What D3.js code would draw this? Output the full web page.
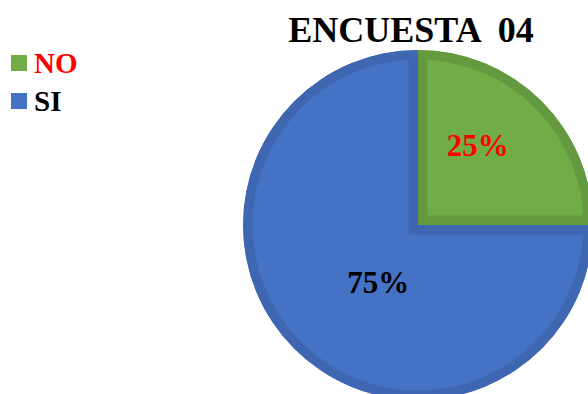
<!DOCTYPE html>
<html>
<head>
<meta charset="utf-8">
<script src="https://cdn.jsdelivr.net/npm/d3@7"></script>
<style>
  html, body { margin: 0; padding: 0; background: #fff; }
  svg { display: block; }
</style>
</head>
<body>
<svg id="chart" width="588" height="394"></svg>
<script>
// Survey answers
const categories = ["NO", "SI"];
const values = [25, 75];
const valueLabels = ["25%", "75%"];
const fillColors = ["#70AD47", "#4472C4"];
const edgeColors = ["#64993F", "#3E66B1"];
const legendTextColors = ["#FF0000", "#000000"];
const labelColors = ["#FF0000", "#000000"];
const title = "ENCUESTA  04";

const svg = d3.select("#chart");
const font = "'Liberation Serif', 'Times New Roman', serif";

const cx = 418, cy = 225, r = 175;

const pie = d3.pie().sort(null).value(d => d)(values);
const arc = d3.arc().innerRadius(0).outerRadius(r);

const defs = svg.append("defs");
const g = svg.append("g").attr("transform", `translate(${cx},${cy})`);

// each slice keeps only the inner half of its stroke, giving an inset edge band
pie.forEach((d, i) => {
  const id = "slice-clip-" + i;
  defs.append("clipPath").attr("id", id)
    .append("path").attr("d", arc(d));
  g.append("path")
    .attr("d", arc(d))
    .attr("fill", fillColors[i])
    .attr("stroke", edgeColors[i])
    .attr("stroke-width", 19)
    .attr("clip-path", `url(#${id})`);
});

// value labels placed from each slice's centroid
const labelArc = d3.arc().innerRadius(r * 0.5).outerRadius(r * 0.5);
const nudge = [[-2, -17], [22, -4]];
pie.forEach((d, i) => {
  const [x, y] = labelArc.centroid(d);
  g.append("text")
    .attr("x", x + nudge[i][0])
    .attr("y", y + nudge[i][1] + 10)
    .attr("text-anchor", "middle")
    .attr("font-family", font)
    .attr("font-weight", "bold")
    .attr("font-size", 31)
    .attr("fill", labelColors[i])
    .text(valueLabels[i]);
});

// title
svg.append("text")
  .attr("x", 411)
  .attr("y", 42)
  .attr("text-anchor", "middle")
  .attr("font-family", font)
  .attr("font-weight", "bold")
  .attr("font-size", 36)
  .attr("fill", "#000")
  .style("white-space", "pre")
  .attr("xml:space", "preserve")
  .text(title);

// legend
const legend = svg.append("g").attr("transform", "translate(11,55)");
categories.forEach((c, i) => {
  const row = legend.append("g").attr("transform", `translate(0,${i * 38})`);
  row.append("rect")
    .attr("x", 0).attr("y", 0)
    .attr("width", 16).attr("height", 16)
    .attr("fill", fillColors[i]);
  row.append("text")
    .attr("x", 23)
    .attr("y", 18)
    .attr("font-family", font)
    .attr("font-weight", "bold")
    .attr("font-size", 29)
    .attr("fill", legendTextColors[i])
    .text(c);
});
</script>
</body>
</html>
